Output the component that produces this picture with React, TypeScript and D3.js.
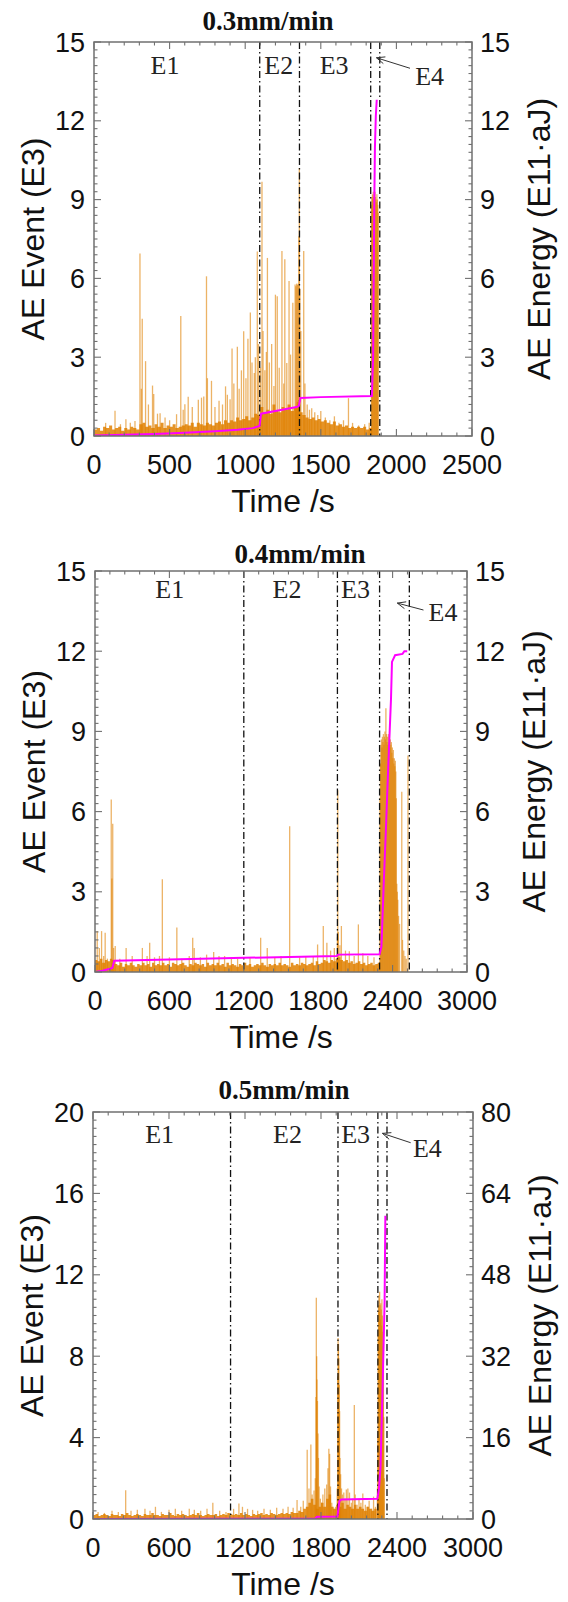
import React from 'react';
import * as d3 from 'd3';

// ---------------- Panel 1 : 0.3mm/min ----------------
const p1Baseline = [
  0.25, 0.3, 0.2, 0.35, 0.3, 0.4, 0.25, 0.3, 0.35, 0.2, 0.3, 0.25, 0.35, 0.3, 0.25,
  0.45, 0.5, 0.35, 0.4, 0.3, 0.45, 0.35, 0.5, 0.3, 0.4, 0.35, 0.45, 0.3, 0.35, 0.4,
  0.45, 0.4, 0.5, 0.35, 0.5, 0.45, 0.4, 0.5, 0.45, 0.4, 0.5, 0.55, 0.45, 0.6, 0.5,
  0.6, 0.55, 0.7, 0.6, 0.65, 0.75, 0.6, 0.7, 0.85, 0.8,
  1.1, 0.9, 1.0, 0.85, 1.2, 0.95, 0.9, 1.1, 1.0, 1.2, 0.95, 1.1, 1.3,
  0.9, 0.8, 0.7, 0.65, 0.7, 0.6, 0.65, 0.55, 0.6, 0.5, 0.45, 0.55, 0.4, 0.45, 0.35, 0.4, 0.3, 0.35, 0.3, 0.35, 0.3, 0.35, 0.25, 0.3,
];
const p1Spikes: [number, number][] = [
  [77, 0.5], [139, 0.96], [175, 0.45], [211, 0.64], [240, 0.5], [271, 0.57], [304, 6.95], [313, 1.8], [319, 4.46],
  [341, 2.85], [360, 1.2], [387, 1.92], [395, 1.6], [420, 0.85], [437, 0.87], [470, 0.7], [500, 0.6], [546, 0.83],
  [574, 4.57], [590, 1.0], [601, 1.21], [623, 1.49], [650, 1.1], [690, 1.38], [711, 1.46], [726, 1.5], [744, 6.08],
  [750, 2.2], [777, 2.1], [800, 1.1], [827, 1.34], [850, 1.2], [870, 1.89], [882, 1.57], [900, 1.4], [913, 3.33],
  [925, 2.0], [948, 3.4], [960, 1.8], [975, 2.5], [990, 3.99], [1005, 2.2], [1018, 3.7], [1034, 4.7], [1045, 2.8],
  [1060, 2.4], [1067, 3.0], [1080, 7.02], [1088, 3.5], [1100, 2.6], [1111, 9.68], [1118, 4.0], [1130, 2.5], [1140, 3.2],
  [1147, 6.78], [1160, 2.8], [1175, 3.5], [1190, 1.9], [1200, 5.38], [1212, 5.32], [1225, 2.6], [1243, 7.04], [1255, 2.0],
  [1262, 6.73], [1275, 2.78], [1290, 5.9], [1300, 3.1], [1315, 5.07], [1330, 5.77], [1335, 5.7], [1340, 5.8], [1345, 5.75],
  [1350, 5.8], [1355, 7.6], [1358, 10.2], [1362, 5.6], [1368, 4.0], [1387, 7.04], [1395, 2.0], [1410, 1.2], [1425, 1.0],
  [1440, 1.06], [1460, 0.9], [1480, 0.8], [1500, 0.95], [1530, 0.7], [1560, 0.6], [1590, 0.75], [1620, 0.5], [1650, 0.6],
  [1683, 1.44], [1710, 0.5], [1750, 0.4], [1790, 0.45], [1820, 0.5],
  [1835, 8.8], [1838, 9.1], [1841, 9.2], [1844, 9.0], [1847, 9.3], [1850, 9.1], [1853, 9.2], [1856, 9.0], [1859, 9.3],
  [1862, 9.1], [1865, 9.0], [1868, 8.9], [1871, 9.2], [1874, 9.0], [1877, 8.8], [1880, 8.5],
];
const p1Energy: [number, number][] = [
  [0, 0.02], [200, 0.05], [400, 0.08], [600, 0.12], [800, 0.18], [950, 0.24], [1050, 0.3], [1095, 0.38], [1105, 0.85],
  [1200, 0.95], [1340, 1.1], [1355, 1.15], [1365, 1.45], [1500, 1.48], [1838, 1.52], [1846, 3], [1850, 6], [1854, 9],
  [1858, 11], [1864, 12.2], [1870, 12.8],
];
const p1Stages = [1096, 1359, 1830, 1890];
const p1StageNames = ['E1', 'E2', 'E3', 'E4'];
const p1NameT = [470, 1222, 1588, 2220];
const p1NameV = [13.8, 13.8, 13.8, 13.36];
const p1Arrow: [number, number][] = [[2090, 14.0], [1868, 14.4]];
const p1XTicks = [0, 500, 1000, 1500, 2000, 2500];
const p1YTicks = [0, 3, 6, 9, 12, 15];
const p1Y2Ticks = [0, 3, 6, 9, 12, 15];

// ---------------- Panel 2 : 0.4mm/min ----------------
const p2Baseline = [
  0.45, 0.4, 0.5, 0.35, 0.45, 0.4, 0.5, 0.45,
  0.3, 0.25, 0.35, 0.2, 0.3, 0.25, 0.35, 0.25, 0.2, 0.3, 0.25, 0.35, 0.25, 0.3, 0.2, 0.35, 0.25,
  0.3, 0.25, 0.35, 0.25, 0.3, 0.2, 0.35, 0.3, 0.25, 0.3, 0.35, 0.25, 0.2, 0.3, 0.25, 0.35, 0.3, 0.25, 0.3, 0.2, 0.35, 0.25, 0.3, 0.25, 0.35,
  0.25, 0.3, 0.2, 0.35, 0.25, 0.3, 0.25, 0.2, 0.3, 0.25, 0.35, 0.25, 0.3, 0.2, 0.25, 0.3, 0.25, 0.35, 0.25, 0.2, 0.3, 0.25, 0.3, 0.25, 0.35,
  0.25, 0.3, 0.25, 0.2, 0.35, 0.25, 0.3, 0.25, 0.35, 0.3, 0.25, 0.3, 0.35, 0.25, 0.4, 0.3, 0.35, 0.45, 0.4, 0.35, 0.45, 0.4, 0.5, 0.55, 0.45,
  0.4, 0.45, 0.35, 0.4, 0.3, 0.35, 0.4, 0.3, 0.35, 0.25, 0.3, 0.35, 0.25, 0.3, 0.35,
];
const p2Spikes: [number, number][] = [
  [18, 1.53], [35, 0.9], [53, 1.53], [70, 0.6], [82, 1.47], [100, 0.5], [131, 6.45], [136, 3.5], [143, 5.55], [150, 0.9],
  [163, 0.97], [200, 0.5], [251, 0.9], [300, 0.6], [382, 0.9], [420, 0.6], [441, 1.09], [480, 0.55], [520, 0.6],
  [543, 3.47], [600, 0.55], [660, 1.66], [700, 0.5], [760, 0.6], [788, 1.28], [800, 0.9], [850, 0.55], [900, 0.65],
  [957, 0.75], [1000, 0.6], [1045, 0.6], [1100, 0.55], [1150, 0.5], [1250, 0.55], [1336, 1.28], [1389, 0.9], [1450, 0.55],
  [1500, 0.6], [1570, 5.45], [1650, 0.55], [1700, 0.6], [1760, 0.6], [1795, 1.03], [1841, 1.72], [1870, 1.09], [1900, 0.8],
  [1930, 0.9], [1955, 1.3], [1958, 6.8], [1962, 1.5], [1975, 1.0], [1987, 1.72], [2020, 0.8], [2051, 0.78], [2090, 0.6],
  [2124, 1.78], [2160, 0.7], [2200, 0.6], [2250, 0.55],
  [2298, 6.5], [2302, 7.8], [2306, 8.5], [2310, 8.7], [2314, 8.4], [2318, 8.8], [2322, 8.6], [2326, 8.9], [2330, 8.5],
  [2334, 8.8], [2338, 9.0], [2342, 8.7], [2346, 9.87], [2350, 8.9], [2354, 8.6], [2358, 8.8], [2362, 8.5], [2366, 8.9],
  [2370, 8.6], [2374, 8.8], [2378, 8.4], [2382, 8.7], [2386, 8.5], [2390, 8.6], [2394, 8.2], [2398, 8.4], [2402, 8.0],
  [2406, 8.3], [2410, 7.8], [2414, 8.0], [2418, 7.7], [2422, 7.9], [2426, 7.5], [2430, 6.5], [2434, 3.3], [2438, 3.0],
  [2442, 2.7], [2448, 2.1], [2456, 1.8], [2474, 6.74], [2480, 1.2], [2490, 0.8], [2500, 0.6], [2510, 0.5], [2524, 8.1],
];
const p2Energy: [number, number][] = [
  [0, 0], [60, 0.05], [120, 0.12], [140, 0.15], [155, 0.42], [600, 0.47], [1200, 0.53], [1950, 0.6], [1960, 0.65],
  [2295, 0.66], [2310, 0.95], [2330, 3.5], [2345, 5.2], [2365, 7.7], [2387, 10.2], [2395, 11.6], [2420, 11.85],
  [2480, 11.9], [2495, 12.0], [2518, 12.0],
];
const p2Stages = [1200, 1955, 2295, 2535];
const p2StageNames = ['E1', 'E2', 'E3', 'E4'];
const p2NameT = [603, 1548, 2101, 2807];
const p2NameV = [13.99, 13.99, 13.99, 13.13];
const p2Arrow: [number, number][] = [[2649, 13.54], [2438, 13.8]];
const p2XTicks = [0, 600, 1200, 1800, 2400, 3000];
const p2YTicks = [0, 3, 6, 9, 12, 15];
const p2Y2Ticks = [0, 3, 6, 9, 12, 15];

// ---------------- Panel 3 : 0.5mm/min ----------------
const p3Baseline = [
  0.2, 0.25, 0.15, 0.2, 0.25, 0.2, 0.15, 0.25, 0.2, 0.2, 0.15, 0.25, 0.2, 0.3, 0.2, 0.15, 0.2, 0.25, 0.2, 0.15, 0.25, 0.2, 0.2, 0.3, 0.2,
  0.2, 0.15, 0.25, 0.2, 0.2, 0.3, 0.2, 0.15, 0.25, 0.2, 0.25, 0.2, 0.15, 0.2, 0.25, 0.2, 0.3, 0.2, 0.15, 0.2, 0.25, 0.2, 0.2, 0.25, 0.15,
  0.2, 0.25, 0.2, 0.3, 0.25, 0.2, 0.25, 0.2, 0.3, 0.2, 0.25, 0.2, 0.15, 0.25, 0.2, 0.25, 0.3, 0.2, 0.25, 0.2, 0.3, 0.25, 0.2, 0.25, 0.3,
  0.25, 0.3, 0.25, 0.35, 0.3, 0.3, 0.4, 0.35, 0.5, 0.6, 0.8, 1.0, 0.7, 0.5, 0.6, 0.8, 0.6, 1.0, 1.2, 0.6, 0.5, 0.7,
  0.6, 0.8, 0.5, 0.7, 0.6, 0.5, 0.7, 0.5, 0.6, 0.5, 0.4, 0.6, 0.5, 0.4, 0.5,
];
const p3Spikes: [number, number][] = [
  [40, 0.35], [90, 0.3], [150, 0.4], [200, 0.35], [258, 1.41], [300, 0.4], [350, 0.45], [410, 0.5], [450, 0.4], [493, 0.6],
  [540, 0.35], [600, 0.45], [650, 0.5], [700, 0.4], [760, 0.5], [800, 0.45], [850, 0.4], [900, 0.5], [946, 0.8], [1000, 0.4],
  [1050, 0.35], [1110, 0.5], [1152, 0.76], [1180, 0.6], [1220, 0.5], [1260, 0.45], [1300, 0.4], [1350, 0.5], [1400, 0.45],
  [1450, 0.55], [1500, 0.5], [1540, 0.6], [1580, 0.55], [1611, 0.93], [1640, 0.6], [1660, 0.9], [1691, 3.4], [1705, 1.5],
  [1720, 3.66], [1730, 1.2], [1745, 1.4], [1755, 2.0], [1760, 6.0], [1763, 10.87], [1766, 8.0], [1768, 6.86], [1772, 5.8],
  [1776, 4.2], [1780, 3.0], [1785, 1.6], [1795, 1.0], [1805, 0.8], [1815, 1.2], [1830, 1.5], [1845, 1.7], [1855, 2.5],
  [1862, 3.45], [1868, 3.2], [1875, 1.6], [1885, 0.8], [1900, 0.5], [1915, 0.6],
  [1928, 1.5], [1932, 7.0], [1935, 8.9], [1938, 8.6], [1941, 7.9], [1944, 6.6], [1947, 5.3], [1950, 3.0], [1955, 2.2],
  [1962, 1.5], [1970, 1.2], [1980, 1.3], [1990, 1.0], [2000, 1.45], [2012, 1.5], [2025, 1.3], [2040, 0.8], [2050, 1.0],
  [2063, 5.6], [2070, 1.2], [2085, 0.7], [2100, 1.0], [2115, 0.8], [2130, 1.25], [2150, 0.7], [2165, 0.6], [2180, 0.9],
  [2200, 0.5], [2215, 1.1], [2230, 0.6],
  [2245, 1.5], [2248, 4.0], [2251, 9.0], [2254, 10.5], [2257, 11.0], [2260, 10.2], [2263, 11.17], [2266, 10.5], [2269, 9.8],
  [2272, 10.6], [2275, 10.3], [2278, 9.5], [2281, 10.8], [2284, 10.0], [2287, 9.2], [2290, 8.5], [2293, 7.5], [2296, 5.0],
  [2300, 2.0],
];
const p3Energy: [number, number][] = [
  [0, 0], [1000, 0.05], [1755, 0.1], [1768, 0.45], [1930, 0.5], [1945, 3.5], [1960, 3.85], [2245, 4.0], [2258, 6],
  [2270, 10.2], [2290, 29.7], [2302, 42.7], [2308, 59.6],
];
const p3Stages = [1086, 1934, 2249, 2321];
const p3StageNames = ['E1', 'E2', 'E3', 'E4'];
const p3NameT = [526, 1536, 2073, 2640];
const p3NameV = [18.48, 18.48, 18.48, 17.79];
const p3Arrow: [number, number][] = [[2508, 18.49], [2285, 18.95]];
const p3XTicks = [0, 600, 1200, 1800, 2400, 3000];
const p3YTicks = [0, 4, 8, 12, 16, 20];
const p3Y2Ticks = [0, 16, 32, 48, 64, 80];

const BIN = 20;
const ORANGE = '#E08000';
const FRAME = '#707070';
const SANS = '"Liberation Sans", Arial, Helvetica, sans-serif';
const SERIF = '"Liberation Serif", "Times New Roman", Times, serif';

type PanelProps = {
  id: string;
  box: { left: number; right: number; top: number; bottom: number };
  title: string;
  titleX: number;
  titleY: number;
  baseline: number[];
  spikes: [number, number][];
  energy: [number, number][];
  stages: number[];
  names: string[];
  nameT: number[];
  nameV: number[];
  arrow: [number, number][];
  xTicks: number[];
  yTicks: number[];
  y2Ticks: number[];
};

function Panel(p: PanelProps) {
  const { left, right, top, bottom } = p.box;
  const xMax = p.xTicks[p.xTicks.length - 1];
  const yMax = p.yTicks[p.yTicks.length - 1];
  const y2Max = p.y2Ticks[p.y2Ticks.length - 1];
  const x = d3.scaleLinear().domain([0, xMax]).range([left, right]);
  const y = d3.scaleLinear().domain([0, yMax]).range([bottom, top]);
  const y2 = d3.scaleLinear().domain([0, y2Max]).range([bottom, top]);

  const basePts: [number, number][] = p.baseline.map((v, i) => [i * BIN, v]);
  basePts.push([p.baseline.length * BIN, p.baseline[p.baseline.length - 1]]);
  const area = d3
    .area<[number, number]>()
    .x((d) => x(d[0]))
    .y0(y(0))
    .y1((d) => y(d[1]))
    .curve(d3.curveStepAfter);
  const line = d3
    .line<[number, number]>()
    .x((d) => x(d[0]))
    .y((d) => y2(d[1]));

  const xStep = p.xTicks[1] - p.xTicks[0];
  const yStep = p.yTicks[1] - p.yTicks[0];
  const xMinor = d3.range(0, xMax + 1e-6, xStep / 5);
  const yMinor = d3.range(0, yMax + 1e-6, yStep / 10);

  const maj = 7;
  const mnr = 3.5;
  const midY = (top + bottom) / 2;
  const midX = (left + right) / 2;

  const [a0, a1] = p.arrow;
  const ax0 = x(a0[0]);
  const ay0 = y(a0[1]);
  const ax1 = x(a1[0]);
  const ay1 = y(a1[1]);
  const ang = Math.atan2(ay0 - ay1, ax0 - ax1);
  const hl = 9;
  const h1 = [ax1 + hl * Math.cos(ang + 0.4), ay1 + hl * Math.sin(ang + 0.4)];
  const h2 = [ax1 + hl * Math.cos(ang - 0.4), ay1 + hl * Math.sin(ang - 0.4)];

  return (
    <g>
      <defs>
        <clipPath id={`clip-${p.id}`}>
          <rect x={left} y={top} width={right - left} height={bottom - top} />
        </clipPath>
      </defs>
      <g clipPath={`url(#clip-${p.id})`}>
        <path d={area(basePts) || ''} fill={ORANGE} fillOpacity={0.85} />
        {p.spikes.map((s, i) => (
          <line
            key={i}
            x1={x(s[0])}
            x2={x(s[0])}
            y1={y(0)}
            y2={y(s[1])}
            stroke={ORANGE}
            strokeOpacity={0.6}
            strokeWidth={1.3}
          />
        ))}
        {p.stages.map((t, i) => (
          <line
            key={i}
            x1={x(t)}
            x2={x(t)}
            y1={top}
            y2={bottom}
            stroke="#111"
            strokeWidth={1.3}
            strokeDasharray="7,3,1.5,3"
          />
        ))}
        <path d={line(p.energy) || ''} fill="none" stroke="#FF00FF" strokeWidth={2} />
      </g>
      {p.names.map((n, i) => (
        <text
          key={n}
          x={x(p.nameT[i])}
          y={y(p.nameV[i])}
          textAnchor="middle"
          fontFamily={SERIF}
          fontSize={26}
          fill="#222"
        >
          {n}
        </text>
      ))}
      <line x1={ax0} y1={ay0} x2={ax1} y2={ay1} stroke="#333" strokeWidth={1} />
      <polyline
        points={`${h1[0]},${h1[1]} ${ax1},${ay1} ${h2[0]},${h2[1]}`}
        fill="none"
        stroke="#333"
        strokeWidth={1}
      />
      <rect x={left} y={top} width={right - left} height={bottom - top} fill="none" stroke={FRAME} strokeWidth={1.5} />
      {xMinor.map((t, i) => {
        const isMaj = i % 5 === 0;
        const L = isMaj ? maj : mnr;
        return (
          <g key={`xt${i}`} stroke={FRAME} strokeWidth={1.1}>
            <line x1={x(t)} x2={x(t)} y1={bottom} y2={bottom - L} />
            <line x1={x(t)} x2={x(t)} y1={top} y2={top + L} />
          </g>
        );
      })}
      {yMinor.map((v, i) => {
        const isMaj = i % 10 === 0;
        const L = isMaj ? maj : mnr;
        return (
          <g key={`yt${i}`} stroke={FRAME} strokeWidth={1.1}>
            <line x1={left} x2={left + L} y1={y(v)} y2={y(v)} />
            <line x1={right} x2={right - L} y1={y(v)} y2={y(v)} />
          </g>
        );
      })}
      {p.xTicks.map((t) => (
        <text key={`xl${t}`} x={x(t)} y={bottom + 38} textAnchor="middle" fontFamily={SANS} fontSize={27} fill="#111">
          {t}
        </text>
      ))}
      {p.yTicks.map((v) => (
        <text
          key={`yl${v}`}
          x={left - 9}
          y={y(v) + 9.5}
          textAnchor="end"
          fontFamily={SANS}
          fontSize={27}
          fill="#111"
        >
          {v}
        </text>
      ))}
      {p.y2Ticks.map((v) => (
        <text key={`y2l${v}`} x={right + 8} y={y2(v) + 9.5} textAnchor="start" fontFamily={SANS} fontSize={27} fill="#111">
          {v}
        </text>
      ))}
      <text x={p.titleX} y={p.titleY} textAnchor="middle" fontFamily={SERIF} fontWeight="bold" fontSize={27} fill="#111">
        {p.title}
      </text>
      <text x={midX} y={bottom + 76} textAnchor="middle" fontFamily={SANS} fontSize={32} fill="#111">
        Time /s
      </text>
      <text
        transform={`translate(${left - 50},${midY}) rotate(-90)`}
        textAnchor="middle"
        fontFamily={SANS}
        fontSize={32}
        fill="#111"
      >
        AE Event (E3)
      </text>
      <text
        transform={`translate(${right + 78},${midY}) rotate(-90)`}
        textAnchor="middle"
        fontFamily={SANS}
        fontSize={32}
        fill="#111"
      >
        AE Energy (E11·aJ)
      </text>
    </g>
  );
}

export default function App() {
  return (
    <svg
      width={568}
      height={1602}
      style={{ position: 'absolute', left: 0, top: 0, background: '#fff' }}
      xmlns="http://www.w3.org/2000/svg"
    >
      <rect width={568} height={1602} fill="#fff" />
      <Panel
        id="p1"
        box={{ left: 94, right: 472, top: 42, bottom: 436 }}
        title="0.3mm/min"
        titleX={268}
        titleY={30}
        baseline={p1Baseline}
        spikes={p1Spikes}
        energy={p1Energy}
        stages={p1Stages}
        names={p1StageNames}
        nameT={p1NameT}
        nameV={p1NameV}
        arrow={p1Arrow}
        xTicks={p1XTicks}
        yTicks={p1YTicks}
        y2Ticks={p1Y2Ticks}
      />
      <Panel
        id="p2"
        box={{ left: 95, right: 467, top: 571, bottom: 972 }}
        title="0.4mm/min"
        titleX={300}
        titleY={563}
        baseline={p2Baseline}
        spikes={p2Spikes}
        energy={p2Energy}
        stages={p2Stages}
        names={p2StageNames}
        nameT={p2NameT}
        nameV={p2NameV}
        arrow={p2Arrow}
        xTicks={p2XTicks}
        yTicks={p2YTicks}
        y2Ticks={p2Y2Ticks}
      />
      <Panel
        id="p3"
        box={{ left: 93, right: 473, top: 1112, bottom: 1519 }}
        title="0.5mm/min"
        titleX={284}
        titleY={1099}
        baseline={p3Baseline}
        spikes={p3Spikes}
        energy={p3Energy}
        stages={p3Stages}
        names={p3StageNames}
        nameT={p3NameT}
        nameV={p3NameV}
        arrow={p3Arrow}
        xTicks={p3XTicks}
        yTicks={p3YTicks}
        y2Ticks={p3Y2Ticks}
      />
    </svg>
  );
}
